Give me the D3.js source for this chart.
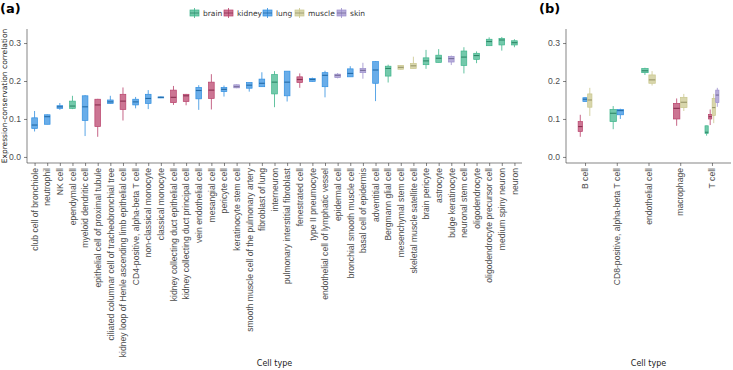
<!DOCTYPE html>
<html>
<head>
<meta charset="utf-8">
<script src="https://cdn.jsdelivr.net/npm/d3@7"></script>
<style>
body { margin: 0; background: #fff; }
svg { font-family: "DejaVu Sans", sans-serif; }
.axis path, .axis line { stroke: #333; stroke-width: 0.6; }
.axis text { fill: #4d4d4d; }
</style>
</head>
<body>
<div id="chart"></div>
<script>
// Panel (a): one box per cell type
var cellTypesA = ['club cell of bronchiole', 'neutrophil', 'NK cell', 'ependymal cell',
	'myeloid dendritic cell', 'epithelial cell of proximal tubule',
	'ciliated columnar cell of tracheobronchial tree',
	'kidney loop of Henle ascending limb epithelial cell', 'CD4-positive, alpha-beta T cell',
	'non-classical monocyte', 'classical monocyte', 'kidney collecting duct epithelial cell',
	'kidney collecting duct principal cell', 'vein endothelial cell', 'mesangial cell',
	'pericyte cell', 'keratinocyte stem cell', 'smooth muscle cell of the pulmonary artery',
	'fibroblast of lung', 'interneuron', 'pulmonary interstitial fibroblast', 'fenestrated cell',
	'type II pneumocyte', 'endothelial cell of lymphatic vessel', 'epidermal cell',
	'bronchial smooth muscle cell', 'basal cell of epidermis', 'adventitial cell',
	'Bergmann glial cell', 'mesenchymal stem cell', 'skeletal muscle satellite cell',
	'brain pericyte', 'astrocyte', 'bulge keratinocyte', 'neuronal stem cell',
	'oligodendrocyte', 'oligodendrocyte precursor cell', 'medium spiny neuron', 'neuron'];
var tissueA = ['lung', 'lung', 'lung', 'brain', 'lung', 'kidney', 'lung', 'kidney', 'lung',
	'lung', 'lung', 'kidney', 'kidney', 'lung', 'kidney', 'lung', 'skin', 'lung', 'lung',
	'brain', 'lung', 'kidney', 'lung', 'lung', 'skin', 'lung', 'skin', 'lung', 'brain',
	'muscle', 'muscle', 'brain', 'brain', 'skin', 'brain', 'brain', 'brain', 'brain', 'brain'];
var lowA = [0.067, 0.086, 0.124, 0.126, 0.055, 0.053, 0.140, 0.096, 0.128, 0.126, 0.155,
	0.137, 0.136, 0.124, 0.125, 0.159, 0.181, 0.172, 0.185, 0.131, 0.146, 0.182, 0.198,
	0.157, 0.207, 0.211, 0.206, 0.147, 0.196, 0.230, 0.233, 0.232, 0.249, 0.242, 0.220,
	0.247, 0.293, 0.280, 0.289];
var q1A = [0.075, 0.086, 0.128, 0.128, 0.096, 0.080, 0.141, 0.125, 0.137, 0.141, 0.156,
	0.143, 0.146, 0.153, 0.154, 0.172, 0.182, 0.181, 0.185, 0.166, 0.161, 0.196, 0.199,
	0.185, 0.209, 0.211, 0.222, 0.194, 0.213, 0.231, 0.233, 0.243, 0.249, 0.250, 0.241,
	0.257, 0.293, 0.295, 0.295];
var medA = [0.084, 0.106, 0.132, 0.134, 0.132, 0.137, 0.145, 0.147, 0.145, 0.154, 0.157,
	0.157, 0.161, 0.175, 0.176, 0.178, 0.185, 0.189, 0.194, 0.197, 0.197, 0.204, 0.204,
	0.215, 0.215, 0.220, 0.228, 0.229, 0.233, 0.236, 0.240, 0.253, 0.260, 0.259, 0.263,
	0.267, 0.304, 0.308, 0.301];
var q3A = [0.103, 0.111, 0.135, 0.147, 0.161, 0.152, 0.150, 0.165, 0.152, 0.165, 0.158,
	0.176, 0.165, 0.183, 0.197, 0.183, 0.190, 0.196, 0.205, 0.217, 0.226, 0.211, 0.207,
	0.222, 0.218, 0.232, 0.233, 0.251, 0.239, 0.241, 0.246, 0.261, 0.268, 0.265, 0.279,
	0.273, 0.310, 0.312, 0.306];
var highA = [0.121, 0.112, 0.142, 0.161, 0.163, 0.153, 0.161, 0.183, 0.158, 0.176, 0.159,
	0.187, 0.166, 0.189, 0.218, 0.188, 0.191, 0.196, 0.223, 0.226, 0.226, 0.220, 0.209,
	0.227, 0.221, 0.239, 0.248, 0.252, 0.243, 0.242, 0.264, 0.282, 0.284, 0.267, 0.289,
	0.278, 0.315, 0.316, 0.310];

// Panel (b): cell types found in several tissues, boxes dodged by tissue
var cellTypesB = ['B cell', 'CD8-positive, alpha-beta T cell', 'endothelial cell', 'macrophage', 'T cell'];
var cellB = ['B cell', 'B cell', 'B cell',
	'CD8-positive, alpha-beta T cell', 'CD8-positive, alpha-beta T cell',
	'endothelial cell', 'endothelial cell', 'macrophage', 'macrophage',
	'T cell', 'T cell', 'T cell', 'T cell'];
var tissueB = ['kidney', 'lung', 'muscle', 'brain', 'lung', 'brain', 'muscle', 'kidney', 'muscle',
	'brain', 'kidney', 'muscle', 'skin'];
var lowB = [0.053, 0.146, 0.108, 0.073, 0.100, 0.216, 0.188, 0.082, 0.121, 0.056, 0.084, 0.089, 0.132];
var q1B = [0.067, 0.146, 0.131, 0.093, 0.111, 0.222, 0.194, 0.100, 0.130, 0.062, 0.100, 0.109, 0.143];
var medB = [0.080, 0.152, 0.150, 0.115, 0.122, 0.227, 0.203, 0.128, 0.144, 0.065, 0.106, 0.130, 0.163];
var q3B = [0.093, 0.156, 0.166, 0.125, 0.125, 0.233, 0.216, 0.141, 0.157, 0.082, 0.112, 0.154, 0.176];
var highB = [0.111, 0.157, 0.182, 0.134, 0.127, 0.235, 0.226, 0.154, 0.166, 0.082, 0.125, 0.166, 0.182];

var tissues = ['brain', 'kidney', 'lung', 'muscle', 'skin'];
var yTicks = [0, 0.1, 0.2, 0.3];

var
WIDTH = 733,
HEIGHT = 370,
PLOT_TOP = 29,
PLOT_BOTTOM = 163,
BOX_FRACTION = 0.45; // доля шага, занятая ящиком

var color = d3.scaleOrdinal()
.domain(tissues)
.range(['#3db48a', '#b8406a', '#2f8ee0', '#c9c68c', '#9b8ecc']);

var y = d3.scaleLinear()
.domain([-0.016, 0.337])
.range([PLOT_BOTTOM, PLOT_TOP]);

var svg = d3
.select('#chart')
.append('svg')
.attr('width', WIDTH)
.attr('height', HEIGHT)
;

function rows(cells, tis, lo, a, m, b, hi){
	return cells.map(function(c, i){
		return {cell: c, tissue: tis[i], low: lo[i], q1: a[i], med: m[i], q3: b[i], high: hi[i]};
	});
}

function drawPanel(data, categories, x0, x1, yAxisX, tag){
	var x = d3.scalePoint()
	.domain(categories)
	.range([x0, x1])
	.padding(0.6);
	var step = x.step();

	// сколько тканей в каждой категории (для смещения)
	var groups = d3.group(data, function(d){ return d.cell; });

	var g = svg.append('g');

	// Оси
	g.append('g')
	.attr('class', 'axis')
	.attr('transform', 'translate(' + yAxisX + ',0)')
	.call(d3.axisLeft(y).tickValues(yTicks).tickFormat(d3.format('.1f')).tickSize(3))
	.call(function(a){ a.select('.domain').attr('d', 'M0,' + PLOT_TOP + 'V' + PLOT_BOTTOM); })
	.selectAll('text')
	.style('font-size', '8.6px');

	var xa = g.append('g')
	.attr('class', 'axis')
	.attr('transform', 'translate(0,' + PLOT_BOTTOM + ')')
	.call(d3.axisBottom(x).tickSize(3).tickSizeOuter(0));
	xa.select('.domain').attr('d', 'M' + yAxisX + ',0H' + x1);
	xa.selectAll('text')
	.attr('transform', 'rotate(-90)')
	.attr('x', -5)
	.attr('y', 0)
	.attr('dy', '0.32em')
	.style('text-anchor', 'end')
	.style('font-size', '8.6px');

	g.append('text')
	.attr('x', (x0 + x1) / 2)
	.attr('y', 366)
	.attr('text-anchor', 'middle')
	.style('font-size', '8px')
	.style('fill', '#222')
	.text('Cell type');

	g.append('text')
	.attr('x', yAxisX - 27)
	.attr('y', 13)
	.style('font-size', '13px')
	.style('font-weight', 'bold')
	.text(tag);

	var boxes = g.selectAll('.box')
	.data(data)
	.enter()
	.append('g')
	.attr('class', 'box')
	.attr('transform', function(d){
		var grp = groups.get(d.cell);
		var n = grp.length, k = grp.indexOf(d);
		var slot = step * BOX_FRACTION / n;
		var cx = x(d.cell) - step * BOX_FRACTION / 2 + slot * (k + 0.5);
		d.w = n > 1 ? slot * 0.9 : slot;
		return 'translate(' + cx + ',0)';
	});

	// усы
	boxes.append('line')
	.attr('y1', function(d){ return y(d.high); })
	.attr('y2', function(d){ return y(d.low); })
	.attr('stroke', function(d){ return color(d.tissue); })
	.attr('stroke-opacity', 0.8)
	.attr('stroke-width', 1);

	boxes.append('rect')
	.attr('x', function(d){ return -d.w / 2; })
	.attr('width', function(d){ return d.w; })
	.attr('y', function(d){ return y(d.q3); })
	.attr('height', function(d){ return Math.max(1, y(d.q1) - y(d.q3)); })
	.attr('fill', '#fff')
	.attr('stroke', 'none');

	boxes.append('rect')
	.attr('x', function(d){ return -d.w / 2; })
	.attr('width', function(d){ return d.w; })
	.attr('y', function(d){ return y(d.q3); })
	.attr('height', function(d){ return Math.max(1, y(d.q1) - y(d.q3)); })
	.attr('fill', function(d){ return color(d.tissue); })
	.attr('fill-opacity', 0.72)
	.attr('stroke', function(d){ return color(d.tissue); })
	.attr('stroke-width', 0.7);

	// медиана
	boxes.append('line')
	.attr('x1', function(d){ return -d.w / 2; })
	.attr('x2', function(d){ return d.w / 2; })
	.attr('y1', function(d){ return y(d.med); })
	.attr('y2', function(d){ return y(d.med); })
	.attr('stroke', function(d){ return d3.color(color(d.tissue)).darker(0.8); })
	.attr('stroke-width', 1.1);
}

drawPanel(rows(cellTypesA, tissueA, lowA, q1A, medA, q3A, highA), cellTypesA, 27, 522, 27, '(a)');
drawPanel(rows(cellB, tissueB, lowB, q1B, medB, q3B, highB), cellTypesB, 566, 731, 566, '(b)');

// y axis title
svg.append('text')
.attr('transform', 'translate(7,' + ((PLOT_TOP + PLOT_BOTTOM) / 2) + ') rotate(-90)')
.attr('text-anchor', 'middle')
.style('font-size', '7.5px')
.style('fill', '#222')
.text('Expression-conservation correlation');

// Legend
var legendX = [190, 224, 263, 295, 337];
var legend = svg.append('g').attr('class', 'legend');
var item = legend.selectAll('g')
.data(tissues)
.enter()
.append('g')
.attr('transform', function(d, i){ return 'translate(' + legendX[i] + ',13)'; });
item.append('line')
.attr('x1', 4.5).attr('x2', 4.5)
.attr('y1', -5).attr('y2', 5)
.attr('stroke', function(d){ return color(d); })
.attr('stroke-opacity', 0.8);
item.append('rect')
.attr('x', 0).attr('y', -3)
.attr('width', 9).attr('height', 6)
.attr('fill', function(d){ return color(d); })
.attr('fill-opacity', 0.72)
.attr('stroke', function(d){ return color(d); })
.attr('stroke-width', 0.7);
item.append('line')
.attr('x1', 0).attr('x2', 9)
.attr('y1', 0).attr('y2', 0)
.attr('stroke', function(d){ return d3.color(color(d)).darker(0.8); })
.attr('stroke-width', 0.8);
item.append('text')
.attr('x', 13)
.attr('y', 0)
.attr('dy', '0.35em')
.style('font-size', '7.5px')
.style('fill', '#333')
.text(function(d){ return d; });
</script>
</body>
</html>
